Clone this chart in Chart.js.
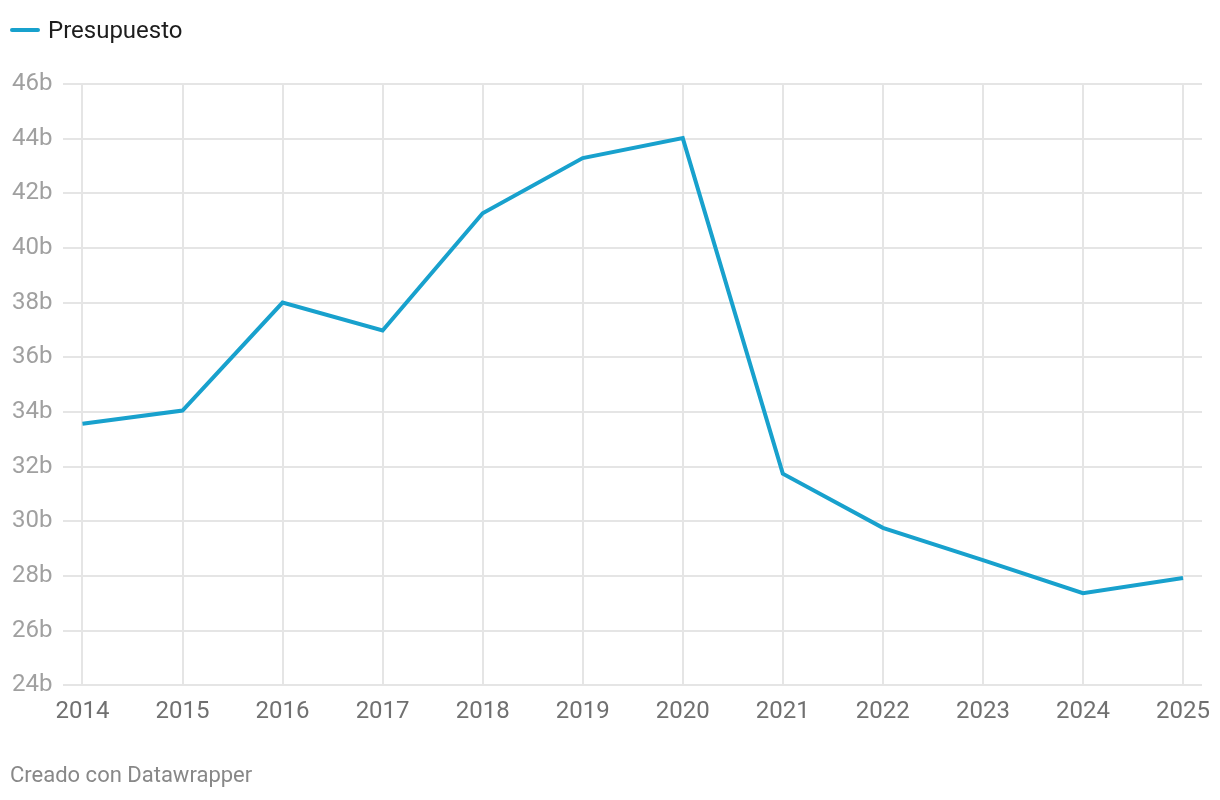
<!DOCTYPE html>
<html>
<head>
<meta charset="utf-8">
<script src="https://cdn.jsdelivr.net/npm/chart.js@4"></script>
<style>
  html, body { margin: 0; padding: 0; background: #fff; }
  #wrap { position: relative; width: 1220px; height: 800px; font-family: Roboto, sans-serif; }
  #c { position: absolute; left: 0; top: 0; }
  #legend { position: absolute; left: 10px; top: 15px; height: 30px; display: flex; align-items: center; font-size: 24px; color: #1d1d1d; }
  #legend .sw { display: inline-block; width: 30px; height: 4px; border-radius: 2px; background: #18a1cd; margin-right: 8px; }
  #footer { position: absolute; left: 10px; top: 762px; font-size: 22px; color: #888; }
</style>
</head>
<body>
<div id="wrap">
  <canvas id="c" width="1220" height="800"></canvas>
  <div id="legend"><span class="sw"></span><span id="legendText"></span></div>
  <div id="footer">Creado con Datawrapper</div>
</div>
<script>
const years = [2014, 2015, 2016, 2017, 2018, 2019, 2020, 2021, 2022, 2023, 2024, 2025];
const presupuesto = [33.57, 34.05, 38.0, 36.98, 41.27, 43.29, 44.02, 31.74, 29.76, 28.58, 27.37, 27.92];
const seriesName = 'Presupuesto';
const yTicks = [24, 26, 28, 30, 32, 34, 36, 38, 40, 42, 44, 46];

document.getElementById('legendText').textContent = seriesName;
Chart.defaults.font.family = 'Roboto, sans-serif';

new Chart(document.getElementById('c'), {
  type: 'line',
  data: {
    datasets: [{
      label: seriesName,
      data: years.map((y, i) => ({ x: y, y: presupuesto[i] })),
      borderColor: '#18a1cd',
      backgroundColor: '#18a1cd',
      borderWidth: 4,
      pointRadius: 0,
      tension: 0
    }]
  },
  options: {
    responsive: false,
    animation: false,
    layout: { padding: { top: 84, left: 1, right: 18, bottom: 62 } },
    plugins: {
      legend: { display: false },
      tooltip: { enabled: false }
    },
    scales: {
      x: {
        type: 'linear',
        min: 2013.81,
        max: 2025.19,
        afterBuildTicks: (axis) => { axis.ticks = years.map(v => ({ value: v })); },
        afterFit: (axis) => { axis.paddingRight = 0; axis.paddingLeft = 0; },
        ticks: {
          callback: (v) => String(v),
          color: '#707070',
          font: { size: 24 },
          padding: 12,
          maxRotation: 0,
          autoSkip: false
        },
        grid: { color: '#e5e5e5', lineWidth: 2, drawTicks: false },
        border: { display: false }
      },
      y: {
        min: 24,
        max: 46,
        afterBuildTicks: (axis) => { axis.ticks = yTicks.map(v => ({ value: v })); },
        ticks: {
          callback: (v) => v + 'b',
          color: '#a0a0a0',
          font: { size: 24 },
          padding: 11
        },
        grid: { color: '#e5e5e5', lineWidth: 2, drawTicks: false },
        border: { display: false }
      }
    }
  }
});
</script>
</body>
</html>
